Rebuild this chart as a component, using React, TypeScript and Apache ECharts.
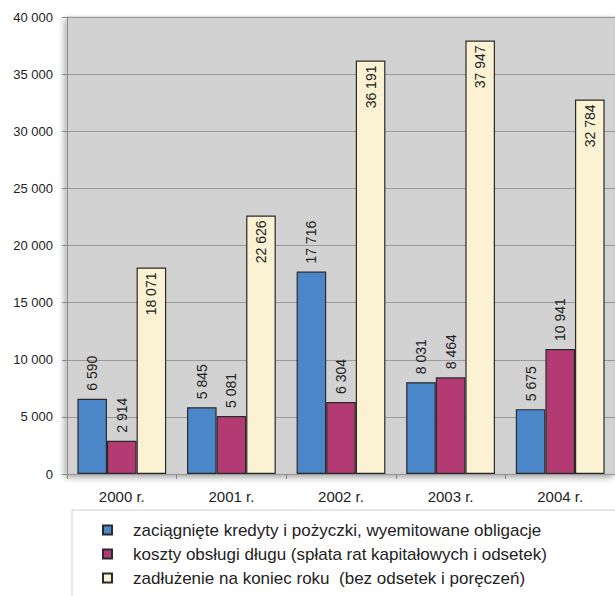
import React, { useEffect, useRef } from "react";
import * as echarts from "echarts";

const categories = ["2000 r.", "2001 r.", "2002 r.", "2003 r.", "2004 r."];
const seriesNames = [
  "zaciągnięte kredyty i pożyczki, wyemitowane obligacje",
  "koszty obsługi długu (spłata rat kapitałowych i odsetek)",
  "zadłużenie na koniec roku  (bez odsetek i poręczeń)",
];
const credits = [6590, 5845, 17716, 8031, 5675];
const debtService = [2914, 5081, 6304, 8464, 10941];
const debtEndYear = [18071, 22626, 36191, 37947, 32784];

const fmt = (v: number) => String(v).replace(/\B(?=(\d{3})+(?!\d))/g, " ");

export default function App() {
  const ref = useRef<HTMLDivElement>(null);
  useEffect(() => {
    document.body.style.margin = "0";
    const chart = echarts.init(ref.current!, null, { renderer: "svg" });
    const font = "Arial, 'Liberation Sans', sans-serif";
    const outsideLabel = {
      show: true,
      position: "top",
      rotate: 90,
      align: "left",
      verticalAlign: "middle",
      distance: 8,
      fontSize: 14,
      color: "#222",
      fontFamily: font,
      formatter: (p: any) => fmt(p.value),
    };
    const insideLabel = {
      show: true,
      position: "insideTop",
      rotate: 90,
      align: "right",
      verticalAlign: "middle",
      distance: 5,
      fontSize: 14,
      color: "#222",
      fontFamily: font,
      formatter: (p: any) => fmt(p.value),
    };
    const barStyle = (c: string) => ({ color: c, borderColor: "#2a2a2a", borderWidth: 1.2 });
    chart.setOption({
      animation: false,
      textStyle: { fontFamily: font },
      grid: {
        left: 67,
        top: 17,
        width: 551,
        height: 457,
        show: true,
        backgroundColor: "#d2d2d2",
        borderColor: "#c4c4c4",
        borderWidth: 1,
        shadowColor: "rgba(0,0,0,0.35)",
        shadowBlur: 6,
        shadowOffsetX: -2,
        shadowOffsetY: 3,
      },
      legend: {
        orient: "vertical",
        left: 72,
        top: 510,
        height: 120,
        backgroundColor: "#ffffff",
        borderColor: "#cfcfcf",
        borderWidth: 1,
        padding: [11, 90, 12, 30],
        itemWidth: 9,
        itemHeight: 9,
        itemGap: 6,
        icon: "rect",
        selectedMode: false,
        textStyle: {
          fontSize: 17,
          color: "#222",
          fontFamily: font,
          padding: [0, 0, 0, 16],
          lineHeight: 18,
        },
        data: seriesNames,
      },
      xAxis: {
        type: "category",
        data: categories,
        axisLine: { lineStyle: { color: "#999" } },
        axisTick: { show: true, length: 5, lineStyle: { color: "#888" } },
        axisLabel: { color: "#222", fontSize: 15, margin: 15, fontFamily: font },
        splitLine: { show: false },
      },
      yAxis: {
        type: "value",
        min: 0,
        max: 40000,
        interval: 5000,
        axisLine: { show: true, lineStyle: { color: "#8a8a8a" } },
        axisTick: { show: true, length: 5, lineStyle: { color: "#8a8a8a" } },
        axisLabel: { color: "#222", fontSize: 13, margin: 14, formatter: (v: number) => fmt(v), fontFamily: font },
        splitLine: { lineStyle: { color: "#9a9a9a", width: 1 } },
      },
      series: [
        {
          name: seriesNames[0],
          type: "bar",
          data: credits,
          barGap: "0%",
          barCategoryGap: "19%",
          itemStyle: barStyle("#4a86c8"),
          label: outsideLabel,
        },
        {
          name: seriesNames[1],
          type: "bar",
          data: debtService,
          barGap: "0%",
          barCategoryGap: "19%",
          itemStyle: barStyle("#b43a74"),
          label: outsideLabel,
        },
        {
          name: seriesNames[2],
          type: "bar",
          data: debtEndYear,
          barGap: "0%",
          barCategoryGap: "19%",
          itemStyle: barStyle("#faf2d3"),
          label: insideLabel,
        },
      ],
    });
    return () => chart.dispose();
  }, []);
  return <div ref={ref} style={{ width: 615, height: 596, position: "absolute", left: 0, top: 0 }} />;
}
